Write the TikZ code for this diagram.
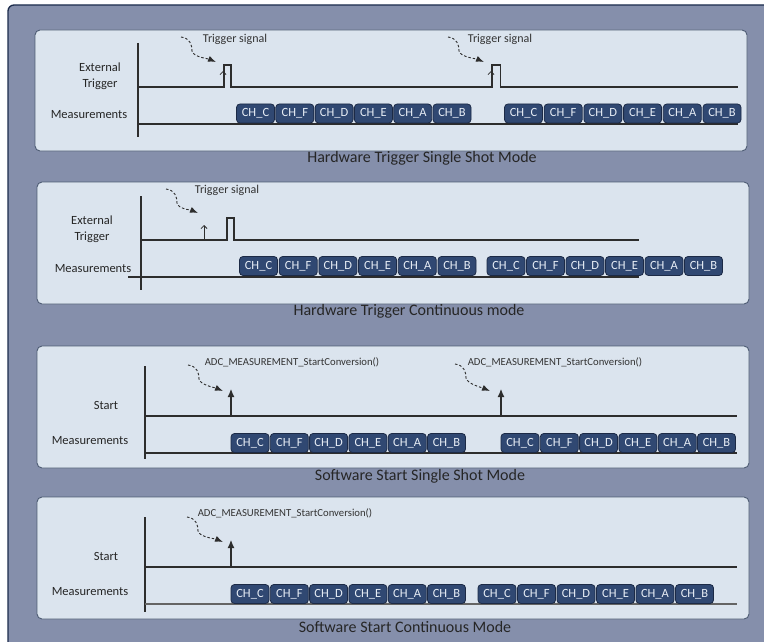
\documentclass[tikz,border=0pt]{standalone}
\usepackage{fontspec}
\setmainfont{Carlito}
\usetikzlibrary{arrows.meta}
\usepackage{xcolor}
\definecolor{framebg}{RGB}{133, 143, 171}
\definecolor{frameedge}{RGB}{28, 44, 76}
\definecolor{panelbg}{RGB}{219, 228, 238}
\definecolor{paneledge}{RGB}{78, 92, 116}
\definecolor{chfill}{RGB}{48, 72, 114}
\definecolor{chedge}{RGB}{28, 42, 70}
\definecolor{chtext}{RGB}{232, 238, 246}
\definecolor{wave}{RGB}{45, 45, 45}
\definecolor{greyline}{RGB}{100, 100, 100}

% one row of channel slots: name prefix, first centre x, y, pitch
\newcommand{\chrow}[4]{%
    \foreach \ch [count=\k from 0] in {C,F,D,E,A,B}
        \node[chbox] (#1\ch) at (#2+\k*#4, #3) {CH\_\ch};
}
% dashed pointer from a free end to a signal edge
\newcommand{\cue}[2]{%
    \draw[cuearrow] (#1) .. controls +(9,1) and +(0,-6) .. ++(11,14)
        .. controls +(1,6) and +(-7,-3) .. (#2);
}

\begin{document}
\begin{tikzpicture}[x=1pt, y=-1pt,
    panel/.style={fill=panelbg, draw=paneledge, line width=0.9pt, rounded corners=5pt},
    chbox/.style={draw=chedge, fill=chfill, line width=0.8pt, rounded corners=3.5pt,
        minimum width=38pt, minimum height=19pt, inner sep=0pt, text=chtext,
        font=\fontsize{12.5}{12.5}\selectfont},
    axis/.style={wave, line width=1.1pt},
    trace/.style={wave, line width=1.1pt},
    rowlabel/.style={text=black!85, font=\fontsize{12.5}{16}\selectfont, align=center},
    modetitle/.style={text=black!85, font=\fontsize{16}{18}\selectfont},
    cuetext/.style={text=black!80, font=\fontsize{12}{14}\selectfont},
    calltext/.style={text=black!80, font=\fontsize{10.7}{12}\selectfont},
    cuearrow/.style={wave, line width=0.9pt, dash pattern=on 2.5pt off 2pt,
        -{Latex[length=8pt, width=6pt]}},
    hwtick/.style={wave, line width=0.8pt, -{Straight Barb[length=3pt, width=6pt]}},
    swkick/.style={wave, line width=1.1pt, -{Latex[length=8pt, width=7pt]}}]

    % Page and outer frame
    \useasboundingbox (0,0) rectangle (764,642);
    \fill[white] (0,0) rectangle (764,642);
    \draw[fill=framebg, draw=frameedge, line width=1.3pt, rounded corners=6pt]
        (8,5) rectangle (775,655);

    % ---- Hardware trigger, single shot ----
    \draw[panel] (35,30) rectangle (747,151);
    \draw[axis] (138,43) -- (138,137);
    \draw[trace] (138,87) -- (224,87) -- (224,65) -- (231,65) -- (231,87)
        -- (492,87) -- (492,65) -- (500.5,65) -- (500.5,87) -- (738,87);
    \draw[wave, line width=1.5pt] (278,87) -- (336,87);
    \draw[wave, line width=1.5pt] (407,87) -- (427,87);
    \draw[wave, line width=1.5pt] (547,87) -- (607,87);
    \draw[trace] (138,124) -- (738,124);
    \draw[hwtick] (223,87) -- (223,71);
    \draw[hwtick] (491,87) -- (491,71);
    \node[rowlabel] (hsExt) at (100,76) {External\\Trigger};
    \node[rowlabel] (hsMeas) at (89,115) {Measurements};
    \node[cuetext] (hsCueA) at (235,39) {Trigger signal};
    \node[cuetext] (hsCueB) at (500,39) {Trigger signal};
    \coordinate (hsFromA) at (181,37);
    \coordinate (hsToA) at (216,62);
    \coordinate (hsFromB) at (448,37);
    \coordinate (hsToB) at (484,62);
    \cue{hsFromA}{hsToA}
    \cue{hsFromB}{hsToB}
    \chrow{hsA}{255.5}{113.5}{39.3}
    \chrow{hsB}{523.5}{113.5}{39.7}
    \node[modetitle] (hsTitle) at (422,158) {Hardware Trigger Single Shot Mode};

    % ---- Hardware trigger, continuous ----
    \draw[panel] (37,182) rectangle (749,304);
    \draw[axis] (141,196) -- (141,290);
    \draw[trace] (141,240) -- (227,240) -- (227,218) -- (234,218) -- (234,240) -- (639,240);
    \draw[wave, line width=1.5pt] (250,240) -- (339,240);
    \fill[wave] (488,240) circle (1pt) (589,240) circle (1pt);
    \draw[trace] (128,277) -- (639,277);
    \draw[hwtick] (204,240) -- (204,225);
    \node[rowlabel] (hcExt) at (92,229) {External\\Trigger};
    \node[rowlabel] (hcMeas) at (93,269) {Measurements};
    \node[cuetext] (hcCue) at (227,190) {Trigger signal};
    \coordinate (hcFrom) at (166,189);
    \coordinate (hcTo) at (198,213);
    \cue{hcFrom}{hcTo}
    \chrow{hcA}{258.5}{266}{39.7}
    \chrow{hcB}{506}{266}{39.5}
    \node[modetitle] (hcTitle) at (409,311) {Hardware Trigger Continuous mode};

    % ---- Software start, single shot ----
    \draw[panel] (37,346) rectangle (749,468);
    \draw[axis] (145,366) -- (145,459);
    \draw[trace] (145,416) -- (737,416);
    \draw[trace] (145,453) -- (737,453);
    \draw[swkick] (231,416) -- (231,389);
    \draw[swkick] (501,416) -- (501,389);
    \node[rowlabel] (ssStart) at (106,405) {Start};
    \node[rowlabel] (ssMeas) at (90,441) {Measurements};
    \node[calltext] (ssCallA) at (292,362) {ADC\_MEASUREMENT\_StartConversion()};
    \node[calltext] (ssCallB) at (555,362) {ADC\_MEASUREMENT\_StartConversion()};
    \coordinate (ssFromA) at (188,365);
    \coordinate (ssToA) at (223,391);
    \coordinate (ssFromB) at (455,364);
    \coordinate (ssToB) at (490,391);
    \cue{ssFromA}{ssToA}
    \cue{ssFromB}{ssToB}
    \chrow{ssA}{250}{443}{39.3}
    \chrow{ssB}{520}{443}{39.3}
    \node[modetitle] (ssTitle) at (420,476) {Software Start Single Shot Mode};

    % ---- Software start, continuous ----
    \draw[panel] (37,497) rectangle (749,619);
    \draw[axis] (145,517) -- (145,612);
    \draw[trace] (145,567) -- (737,567);
    \draw[greyline, line width=1.8pt] (145,604) -- (737,604);
    \draw[swkick] (231,567) -- (231,540);
    \node[rowlabel] (scStart) at (106,556) {Start};
    \node[rowlabel] (scMeas) at (90,592) {Measurements};
    \node[calltext] (scCall) at (285,513) {ADC\_MEASUREMENT\_StartConversion()};
    \coordinate (scFrom) at (187,517);
    \coordinate (scTo) at (223,542);
    \cue{scFrom}{scTo}
    \chrow{scA}{250}{594}{39.3}
    \chrow{scB}{497}{594}{39.5}
    \node[modetitle] (scTitle) at (405,627) {Software Start Continuous Mode};

\end{tikzpicture}
\end{document}
